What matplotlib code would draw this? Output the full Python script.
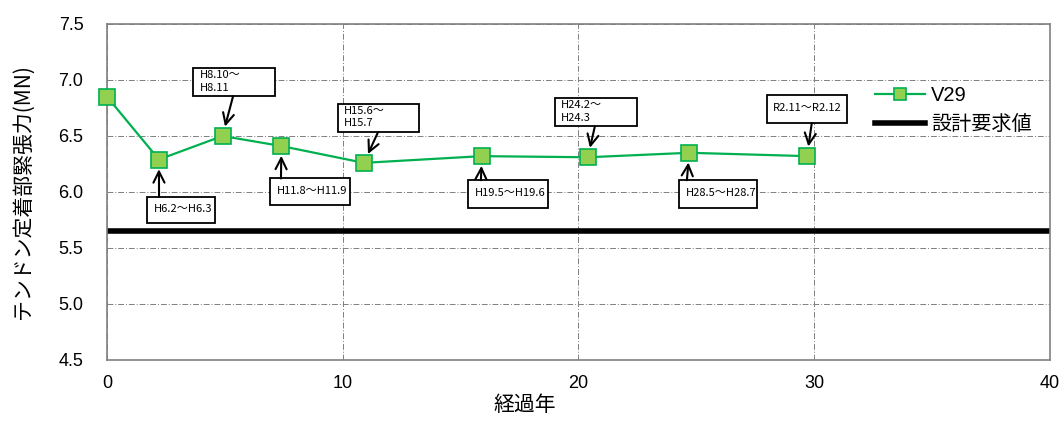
import matplotlib.pyplot as plt
from matplotlib.patches import Rectangle
from matplotlib.transforms import ScaledTranslation

plt.rcParams['font.family'] = ['Liberation Sans', 'Noto Sans CJK JP', 'DejaVu Sans']

# elapsed years and tendon anchorage force (MN)
years = [0.0, 2.2, 4.9, 7.4, 10.9, 15.9, 20.4, 24.7, 29.7]
force = [6.85, 6.29, 6.50, 6.41, 6.26, 6.32, 6.31, 6.35, 6.32]
design_value = 5.65

labels = ["", "H6.2〜H6.3", "H8.10〜\nH8.11", "H11.8〜H11.9", "H15.6〜\nH15.7",
          "H19.5〜H19.6", "H24.2〜\nH24.3", "H28.5〜H28.7", "R2.11〜R2.12"]

# callout layout: box centre (data), box size (inches), arrow start rel. to centre (inches)
box_pos = [None, (3.14, 5.84), (5.39, 6.98), (8.61, 6.00), (11.5, 6.66),
           (17.01, 5.98), (20.74, 6.71), (25.92, 5.98), (29.69, 6.74)]
box_size = [None, (0.68, 0.26), (0.82, 0.28), (0.80, 0.27), (0.81, 0.28),
            (0.80, 0.28), (0.82, 0.28), (0.78, 0.28), (0.80, 0.28)]
arrow_start = [None, (-0.22, 0.13), (-0.01, -0.14), (-0.29, 0.135), (0.0, -0.14),
               (-0.27, 0.14), (-0.01, -0.14), (-0.31, 0.14), (0.05, -0.14)]

fig = plt.figure(figsize=(10.64, 4.21), dpi=100)
ax = fig.add_axes([0.1006, 0.145, 0.886, 0.798])

ax.plot(years, force, color="#00B050", lw=1.6, marker="s", markersize=11,
        markerfacecolor="#92D050", markeredgecolor="#00B050", markeredgewidth=1.2,
        label="V29", zorder=3, clip_on=False)
ax.axhline(design_value, color="black", lw=4, label="設計要求値", zorder=2)

for i, lab in enumerate(labels):
    if not lab:
        continue
    cx, cy = box_pos[i]
    w, h = box_size[i]
    tr = fig.dpi_scale_trans + ScaledTranslation(cx, cy, ax.transData)
    ax.add_patch(Rectangle((-w / 2, -h / 2), w, h, transform=tr, fc="white",
                           ec="black", lw=1.3, zorder=4, clip_on=False))
    ax.text(-w / 2 + 0.065, 0.01, lab, transform=tr, ha="left", va="center",
            fontsize=8, family=['Noto Sans CJK JP', 'DejaVu Sans'],
            linespacing=1.32, zorder=5)
    ax.annotate("", xy=(years[i], force[i]), xycoords="data",
                xytext=arrow_start[i], textcoords=tr,
                arrowprops=dict(arrowstyle="->", color="black", lw=1.5,
                                shrinkA=0, shrinkB=7, mutation_scale=20),
                zorder=4)

ax.set_xlim(0, 40)
ax.set_ylim(4.5, 7.5)
ax.set_xticks([0, 10, 20, 30, 40])
ax.set_yticks([4.5, 5.0, 5.5, 6.0, 6.5, 7.0, 7.5])
ax.set_yticklabels(["4.5", "5.0", "5.5", "6.0", "6.5", "7.0", "7.5"])
ax.tick_params(labelsize=13, length=0)
ax.tick_params(axis="x", pad=11)
ax.tick_params(axis="y", pad=17)
ax.grid(True, color="#808080", lw=0.7, linestyle=(0, (6, 2, 1, 2)))
ax.set_axisbelow(True)
for s in ax.spines.values():
    s.set_color("#808080")
    s.set_linewidth(1.2)

ax.set_xlabel("経過年", fontsize=15, family=['Noto Sans CJK JP'])
ax.xaxis.set_label_coords(0.443, -0.102)
ax.set_ylabel("テンドン定着部緊張力(MN)", fontsize=15, family=['Noto Sans CJK JP'])
ax.yaxis.set_label_coords(-0.078, 0.5)

ax.legend(loc="upper left", bbox_to_anchor=(0.795, 0.87), frameon=False,
          handlelength=2.5, handletextpad=0.3, labelspacing=0.5, markerscale=0.8,
          prop={'family': ['Liberation Sans', 'Noto Sans CJK JP'], 'size': 14.5})

fig.savefig("out.png", dpi=100)
